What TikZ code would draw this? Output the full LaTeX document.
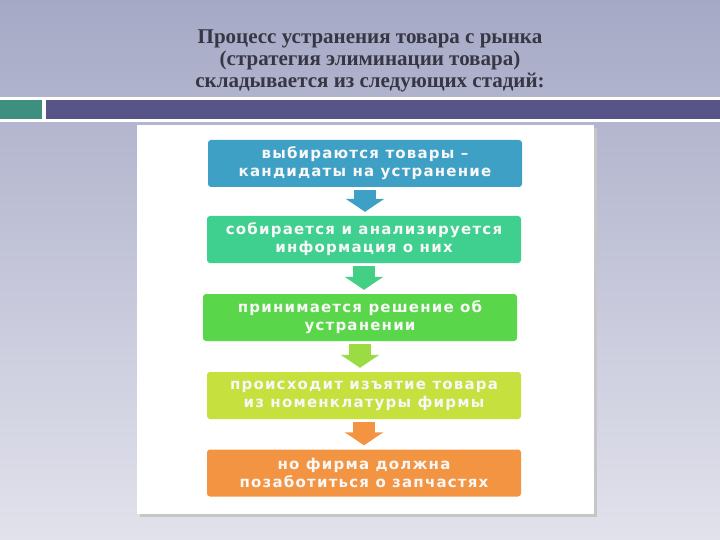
\documentclass[tikz,border=0pt]{standalone}
\usepackage{fontspec}
\setmainfont{Liberation Serif}
\newfontfamily\stagefont[LetterSpace=8]{DejaVu Sans}
\usetikzlibrary{positioning,arrows.meta}
\definecolor{bgtop}{HTML}{A6A9C6}
\definecolor{bgbot}{HTML}{E2E2EC}
\definecolor{bandteal}{HTML}{3D8F80}
\definecolor{bandblue}{HTML}{565489}
\definecolor{titlegray}{HTML}{363644}
\definecolor{stepblue}{HTML}{3FA0C6}
\definecolor{stepteal}{HTML}{3FCF8E}
\definecolor{stepgreen}{HTML}{5AD64A}
\definecolor{steplime}{HTML}{C6E03E}
\definecolor{steporange}{HTML}{F29442}
\tikzset{
  stagebox/.style={rounded corners=3pt, minimum width=314pt, minimum height=47pt,
    align=center, text=white!94!gray, font=\stagefont\bfseries\fontsize{15}{18}\selectfont},
  downarrow/.style={line width=22pt, shorten <=3pt, shorten >=4pt,
    -{Triangle[width=38pt,length=13pt]}}
}
\begin{document}
\begin{tikzpicture}[x=1pt, y=-1pt]
            \useasboundingbox (0,0) rectangle (720,540);
            \shade[top color=bgtop, bottom color=bgbot] (0,0) rectangle (720,540);
            % Header band
            \fill[white] (0,97) rectangle (720,122);
            \fill[bandteal] (0,100) rectangle (42,119);
            \fill[bandblue] (46,100) rectangle (720,119);
            \node[text=titlegray, font=\bfseries\fontsize{21}{22}\selectfont, align=center] (title) at (370,61)
                {Процесс устранения товара с рынка\\(стратегия элиминации товара)\\складывается из следующих стадий:};
            % White panel
            \fill[gray!45] (140,128) rectangle (597,517);
            \fill[white] (137,125) rectangle (594,514);
                        \node[stagebox, fill=stepblue] (s1) at (365,163.5) {выбираются товары –\\кандидаты на устранение};
                        \node[stagebox, fill=stepteal] (s2) at (364,239.5) {собирается и анализируется\\информация о них};
                        \node[stagebox, fill=stepgreen] (s3) at (360,317.5) {принимается решение об\\устранении};
                        \node[stagebox, fill=steplime] (s4) at (364,395.5) {происходит изъятие товара\\из номенклатуры фирмы};
                        \node[stagebox, fill=steporange] (s5) at (364,473) {но фирма должна\\позаботиться о запчастях};
            % Arrows between stages
            \draw[downarrow, stepblue] (s1.south) -- (s1.south |- s2.north);
            \draw[downarrow, stepteal!85!stepgreen] (s2.south) -- (s2.south |- s3.north);
            \draw[downarrow, stepgreen!40!steplime] (s3.south) -- (s3.south |- s4.north);
            \draw[downarrow, steporange] (s4.south) -- (s4.south |- s5.north);
        \end{tikzpicture}
\end{document}
